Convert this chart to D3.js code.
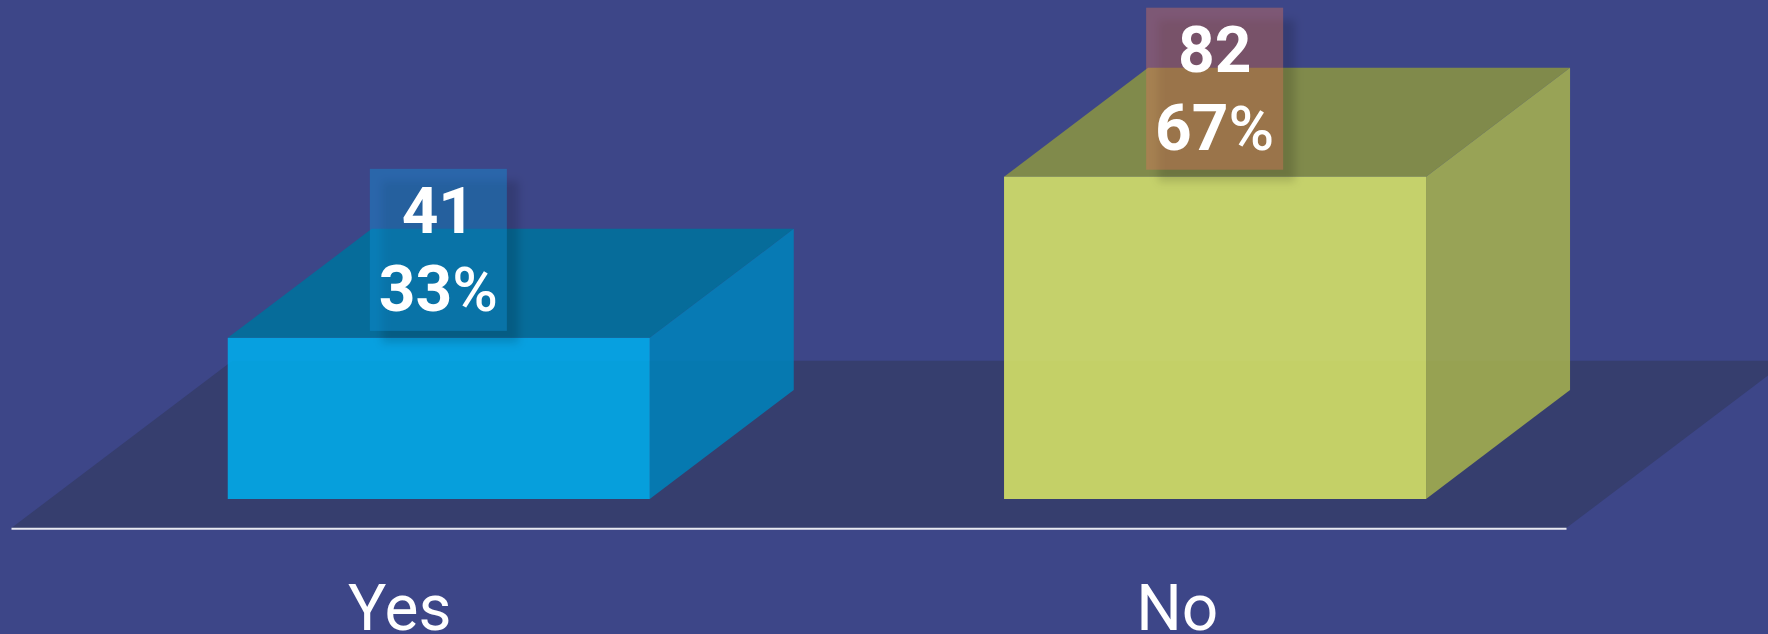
<!DOCTYPE html>
<html><head><meta charset="utf-8">
<script src="https://cdn.jsdelivr.net/npm/d3@7/dist/d3.min.js"></script>
<style>html,body{margin:0;padding:0;background:#3d4688;overflow:hidden}svg{display:block}</style>
</head><body><div id="chart"></div>
<script>
const categories = ["Yes", "No"];
const counts = [41, 82];
const percents = [33, 67];
const frontColors = ["#00adec", "#d8e567"];
const sideColors = ["#0082b9", "#a5b14f"];
const topColors = ["#066c9a", "#808a4b"];
const boxColors = ["#0f96de", "#de735a"];

const W = 1768, H = 634;
const baseY = 528.3, floorBackY = 360.7, barBase = 499;
const depthX = 144, depthY = 109, slope = depthY / depthX;
const axisL = 11, axisR = 1566;

const svg = d3.select("#chart").append("svg").attr("width", W).attr("height", H);
const defs = svg.append("defs");
defs.append("filter").attr("id", "soft").attr("x", "-30%").attr("y", "-30%").attr("width", "160%").attr("height", "160%")
  .append("feGaussianBlur").attr("stdDeviation", 4);

svg.append("rect").attr("width", W).attr("height", H).attr("fill", "#3d4688");

const xAxisScale = d3.scaleBand().domain(categories).range([axisL, axisR]);
const x = d3.scaleBand().domain(categories).range([50.6, 1603.2]).paddingInner(0.4564).paddingOuter(0.2282);
const y = d3.scaleLinear().domain([0, 82]).range([barBase, 176.7]);

const floorDx = (baseY - floorBackY) / slope;
const line = d3.line();
svg.append("path").attr("fill", "#363e6e").attr("d", line([
  [axisL, baseY], [axisL + floorDx, floorBackY], [axisR + floorDx, floorBackY], [axisR, baseY]
]) + "Z");

const axis = svg.append("g").attr("transform", `translate(0,${baseY})`)
  .call(d3.axisBottom(xAxisScale).tickSize(0).tickPadding(53));
axis.select(".domain").attr("stroke", "#e8e9f0").attr("stroke-width", 2);
axis.selectAll("text").attr("fill", "#fff").attr("font-family", "Roboto").attr("font-size", 64)
  .attr("font-weight", 400).attr("dy", "0").attr("y", 630 - baseY);

const rows = categories.map((c, i) => ({ c, i, v: counts[i], p: percents[i] }));
const bars = svg.selectAll("g.bar").data(rows).join("g").attr("class", "bar");
const L = d => x(d.c), R = d => L(d) + x.bandwidth();

bars.append("path").attr("fill", d => topColors[d.i]).attr("d", d => line([
  [L(d), y(d.v)], [L(d) + depthX, y(d.v) - depthY], [R(d) + depthX, y(d.v) - depthY], [R(d), y(d.v)]
]) + "Z");
bars.append("path").attr("fill", d => sideColors[d.i]).attr("fill-opacity", 0.88).attr("d", d => line([
  [R(d), y(d.v)], [R(d) + depthX, y(d.v) - depthY], [R(d) + depthX, barBase - depthY], [R(d), barBase]
]) + "Z");
bars.append("rect").attr("fill", d => frontColors[d.i]).attr("fill-opacity", 0.88)
  .attr("x", L).attr("y", d => y(d.v)).attr("width", x.bandwidth()).attr("height", d => barBase - y(d.v));

const boxW = 137, boxH = 162, boxGap = 7;
const labels = svg.selectAll("g.lab").data(rows).join("g").attr("class", "lab")
  .attr("transform", d => `translate(${L(d) + x.bandwidth() / 2 - boxW / 2 - 0.4},${y(d.v) - boxGap - boxH})`);
labels.append("rect").attr("x", 12).attr("y", 12).attr("width", boxW).attr("height", boxH)
  .attr("fill", "#000").attr("fill-opacity", 0.15).attr("filter", "url(#soft)");
labels.append("rect").attr("width", boxW).attr("height", boxH).attr("fill", d => boxColors[d.i]).attr("fill-opacity", 0.4);
const txt = sel => sel.attr("x", boxW / 2).attr("text-anchor", "middle").attr("fill", "#fff")
  .attr("font-family", "Roboto").attr("font-weight", 700).attr("font-size", 64);
labels.append("text").call(txt).attr("y", 64.5).text(d => d.v);
const pct = labels.append("text").call(txt).attr("y", 142);
pct.append("tspan").text(d => d.p);
pct.append("tspan").attr("font-weight", 500).attr("font-size", 62).text("%");
</script></body></html>
